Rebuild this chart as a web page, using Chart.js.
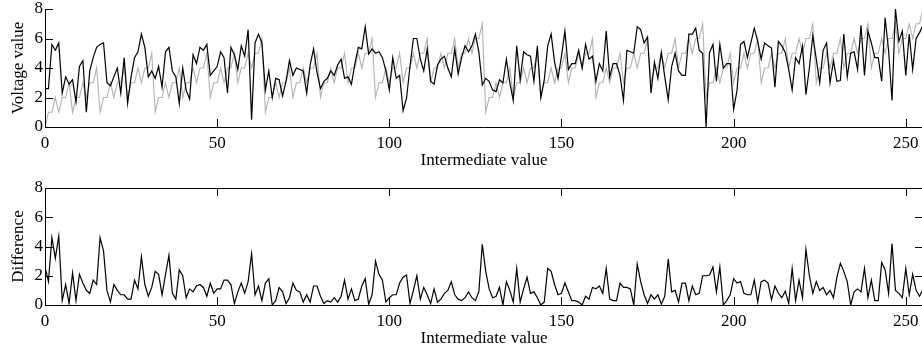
<!DOCTYPE html>
<html>
<head>
    <meta charset="utf-8">
    <title>Voltage value vs intermediate value</title>
    <script src="https://cdn.jsdelivr.net/npm/chart.js@4"></script>
    <style>
        html, body { margin: 0; padding: 0; background: #fff; overflow: hidden; }
        #wrap { position: relative; width: 922px; height: 349px; overflow: hidden; }
        .panel { position: absolute; left: 0; width: 940px; }
        #topPanel { top: 0; height: 175px; }
        #bottomPanel { top: 175px; height: 174px; }
    </style>
</head>
<body>
    <div id="wrap">
        <div class="panel" id="topPanel"><canvas id="voltageChart"></canvas></div>
        <div class="panel" id="bottomPanel"><canvas id="diffChart"></canvas></div>
    </div>

    <script>
        // x axis: intermediate value 0..255
        const intermediate = Array.from({ length: 256 }, (_, i) => i);

        // grey trace (model)
        const model = [
            0,1,1,2,1,2,2,3,1,2,2,3,2,3,3,4, 1,2,2,3,2,3,3,4,2,3,3,4,3,4,4,5,
            1,2,2,3,2,3,3,4,2,3,3,4,3,4,4,5, 2,3,3,4,3,4,4,5,3,4,4,5,4,5,5,6,
            1,2,2,3,2,3,3,4,2,3,3,4,3,4,4,5, 2,3,3,4,3,4,4,5,3,4,4,5,4,5,5,6,
            2,3,3,4,3,4,4,5,3,4,4,5,4,5,5,6, 3,4,4,5,4,5,5,6,4,5,5,6,5,6,6,7,
            1,2,2,3,2,3,3,4,2,3,3,4,3,4,4,5, 2,3,3,4,3,4,4,5,3,4,4,5,4,5,5,6,
            2,3,3,4,3,4,4,5,3,4,4,5,4,5,5,6, 3,4,4,5,4,5,5,6,4,5,5,6,5,6,6,7,
            2,3,3,4,3,4,4,5,3,4,4,5,4,5,5,6, 3,4,4,5,4,5,5,6,4,5,5,6,5,6,6,7,
            3,4,4,5,4,5,5,6,4,5,5,6,5,6,6,7, 4,5,5,6,5,6,6,7,5,6,6,7,6,7,7,8
        ];

        // black trace (measured voltage)
        const voltage = [
            2.6,2.6,5.6,5.2,5.7,2.3,3.4,2.9,3.2,1.7,4.1,4.5,1.0,3.8,4.7,5.4,
            5.6,5.7,3.0,2.8,3.4,4.0,2.3,4.7,1.6,3.4,4.7,5.1,6.3,5.4,3.4,3.8,
            3.3,4.1,2.7,5.1,5.4,3.8,3.4,1.6,4.0,2.5,1.9,4.9,4.3,5.4,5.2,5.6,
            3.5,3.8,4.1,5.1,4.7,2.3,5.4,4.9,3.9,5.5,4.8,6.6,0.5,5.7,6.3,5.7,
            2.5,3.8,2.0,3.3,3.2,2.1,3.1,4.5,3.5,4.0,3.9,3.8,2.3,4.2,5.3,3.7,
            2.6,3.1,3.3,3.8,3.5,4.2,4.6,3.3,3.4,2.9,4.3,5.4,5.3,6.8,4.95,5.3,
            5.0,5.1,4.7,3.8,2.5,4.7,3.3,3.5,1.1,1.95,4.1,6.0,6.0,4.6,3.8,5.3,
            3.1,2.9,4.2,4.6,4.8,4.0,3.4,5.3,3.6,4.7,5.5,5.1,5.5,6.3,5.1,2.85,
            3.3,3.1,2.5,2.4,3.2,3.0,4.6,3.0,1.8,5.5,3.2,5.1,4.9,4.8,3.1,5.5,
            2.0,3.2,5.5,6.3,4.4,3.3,4.8,6.5,3.9,4.3,4.3,5.2,4.0,5.6,4.6,4.8,
            3.1,4.3,3.8,6.5,3.4,4.3,4.3,3.5,1.8,5.2,5.1,5.0,6.8,6.6,5.7,6.1,
            2.3,4.4,3.3,5.05,3.4,1.85,4.1,5.0,3.8,3.5,3.5,6.3,6.3,6.7,5.2,5.0,
            0.0,5.05,5.6,3.1,5.6,4.0,4.3,4.3,1.2,2.5,5.6,5.8,4.7,5.7,6.7,5.8,
            4.6,5.7,5.5,5.35,2.7,5.8,5.5,5.05,3.9,2.5,4.7,4.3,5.5,2.2,4.0,6.2,
            4.6,3.0,5.2,5.7,3.0,4.5,3.1,3.15,6.3,3.4,5.0,5.1,3.9,6.9,3.5,6.5,
            5.7,4.7,4.7,3.1,7.4,5.2,1.8,8.0,5.8,6.5,3.5,6.3,3.9,6.0,6.4,6.9
        ];

        // lower panel
        const difference = [
            2.6,1.6,4.6,3.2,4.7,0.3,1.4,0.1,2.2,0.3,2.1,1.5,1.0,0.8,1.7,1.4,
            4.6,3.7,1.0,0.2,1.4,1.0,0.7,0.7,0.4,0.4,1.7,1.1,3.3,1.4,0.6,1.2,
            2.3,2.1,0.7,2.1,3.4,0.8,0.4,2.4,2.0,0.5,1.1,0.9,1.3,1.4,1.2,0.6,
            1.5,0.8,1.1,1.1,1.7,1.7,1.4,0.1,0.9,1.5,0.8,1.6,3.5,0.7,1.3,0.3,
            1.5,1.8,0.0,0.3,1.2,0.9,0.1,0.5,1.5,1.0,0.9,0.2,0.7,0.2,1.3,1.3,
            0.6,0.1,0.3,0.2,0.5,0.2,0.6,1.7,0.4,1.1,0.3,0.4,1.3,1.8,0.05,0.7,
            3.0,2.1,1.7,0.2,0.5,0.7,0.7,1.5,1.9,2.05,0.1,1.0,2.0,0.4,1.2,0.7,
            0.1,1.1,0.2,0.4,0.8,1.0,1.6,0.7,0.4,0.3,0.5,0.9,0.5,0.3,0.9,4.15,
            2.3,1.1,0.5,0.6,1.2,0.0,1.6,1.0,0.2,2.5,0.2,1.1,1.9,0.8,0.9,0.5,
            0.0,0.2,2.5,2.3,1.4,0.7,0.8,1.5,0.9,0.3,0.3,0.2,0.0,0.6,0.4,1.2,
            1.1,1.3,0.8,2.5,0.4,0.3,0.3,1.5,1.2,1.2,1.1,0.0,2.8,1.6,0.7,0.1,
            0.7,0.4,0.7,0.05,0.6,3.15,0.9,1.0,0.2,1.5,1.5,0.3,1.3,0.7,0.8,2.0,
            2.0,2.05,2.6,0.9,2.6,0.0,0.3,0.7,1.8,1.5,1.6,0.8,0.7,0.7,1.7,0.2,
            1.6,1.7,1.5,0.35,1.3,0.8,0.5,0.95,0.1,2.5,0.3,1.7,0.5,3.8,2.0,0.8,
            1.6,1.0,1.2,0.7,1.0,0.5,1.9,2.85,2.3,1.6,0.0,0.9,1.1,0.9,2.5,0.5,
            1.7,0.3,0.3,2.9,2.4,0.8,4.2,1.0,0.8,0.5,2.5,0.7,2.1,1.0,0.6,1.1
        ];

        const xTicks = [0, 50, 100, 150, 200, 250];
        const yTicks = [0, 2, 4, 6, 8];

        const FONT = { family: '"Liberation Serif", "Times New Roman", serif', size: 17 };

        function points(ys) {
            return intermediate.map((x, i) => ({ x: x, y: ys[i] }));
        }

        // matlab style ticks pointing into the plot
        const inwardTicks = {
            id: 'inwardTicks',
            afterDatasetsDraw(chart, args, opts) {
                const ctx = chart.ctx;
                const a = chart.chartArea;
                const x = chart.scales.x;
                const y = chart.scales.y;
                const len = 8;
                ctx.save();
                ctx.strokeStyle = '#000';
                ctx.lineWidth = 1;
                ctx.beginPath();
                xTicks.forEach(v => {
                    const px = Math.round(x.getPixelForValue(v)) + 0.5;
                    ctx.moveTo(px, a.bottom);
                    ctx.lineTo(px, a.bottom - len);
                    if (opts.box) {
                        ctx.moveTo(px, a.top);
                        ctx.lineTo(px, a.top + len);
                    }
                });
                yTicks.forEach(v => {
                    const py = Math.round(y.getPixelForValue(v)) + 0.5;
                    ctx.moveTo(a.left, py);
                    ctx.lineTo(a.left + len, py);
                    if (opts.box) {
                        ctx.moveTo(a.right, py);
                        ctx.lineTo(a.right - len, py);
                    }
                });
                if (opts.box) {
                    const top = Math.round(a.top) + 0.5;
                    ctx.moveTo(a.left, top);
                    ctx.lineTo(a.right, top);
                    ctx.moveTo(a.right, a.top);
                    ctx.lineTo(a.right, a.bottom);
                }
                ctx.stroke();
                ctx.restore();
            }
        };

        function makeOptions(yTitle, box, padTop, xHeight, titlePad) {
            return {
                responsive: true,
                maintainAspectRatio: false,
                animation: false,
                layout: { padding: { top: padTop, right: 17, bottom: 0, left: 0 } },
                plugins: {
                    legend: { display: false },
                    tooltip: { enabled: false },
                    inwardTicks: { box: box }
                },
                elements: { point: { radius: 0 }, line: { tension: 0 } },
                scales: {
                    x: {
                        type: 'linear',
                        min: 0,
                        max: 255,
                        grid: { display: false, drawTicks: false },
                        border: { display: true, color: '#000', width: 1 },
                        afterBuildTicks: s => { s.ticks = xTicks.map(v => ({ value: v })); },
                        ticks: { color: '#000', font: FONT, padding: 6, maxRotation: 0 },
                        title: { display: true, text: 'Intermediate value', color: '#000', font: FONT, padding: { top: 0, bottom: titlePad } },
                        afterFit: s => { s.height = xHeight; s.paddingLeft = 0; s.paddingRight = 0; }
                    },
                    y: {
                        min: 0,
                        max: 8,
                        grid: { display: false, drawTicks: false },
                        border: { display: true, color: '#000', width: 1 },
                        afterBuildTicks: s => { s.ticks = yTicks.map(v => ({ value: v })); },
                        ticks: { color: '#000', font: FONT, padding: 2 },
                        title: { display: true, text: yTitle, color: '#000', font: FONT, padding: { top: 8, bottom: 0 } },
                        afterFit: s => { s.width = 45; s.paddingTop = 0; s.paddingBottom = 0; }
                    }
                }
            };
        }

        new Chart(document.getElementById('voltageChart'), {
            type: 'line',
            data: {
                datasets: [{
                    label: 'Measured',
                    data: points(voltage),
                    borderColor: '#000',
                    borderWidth: 1.2
                }, {
                    label: 'Model',
                    data: points(model),
                    borderColor: '#b3b3b3',
                    borderWidth: 1.1
                }]
            },
            options: makeOptions('Voltage value', false, 9, 48, 4),
            plugins: [inwardTicks]
        });

        new Chart(document.getElementById('diffChart'), {
            type: 'line',
            data: {
                datasets: [{
                    label: 'Difference',
                    data: points(difference),
                    borderColor: '#000',
                    borderWidth: 1.2
                }]
            },
            options: makeOptions('Difference', true, 13, 44, 0),
            plugins: [inwardTicks]
        });
    </script>
</body>
</html>
